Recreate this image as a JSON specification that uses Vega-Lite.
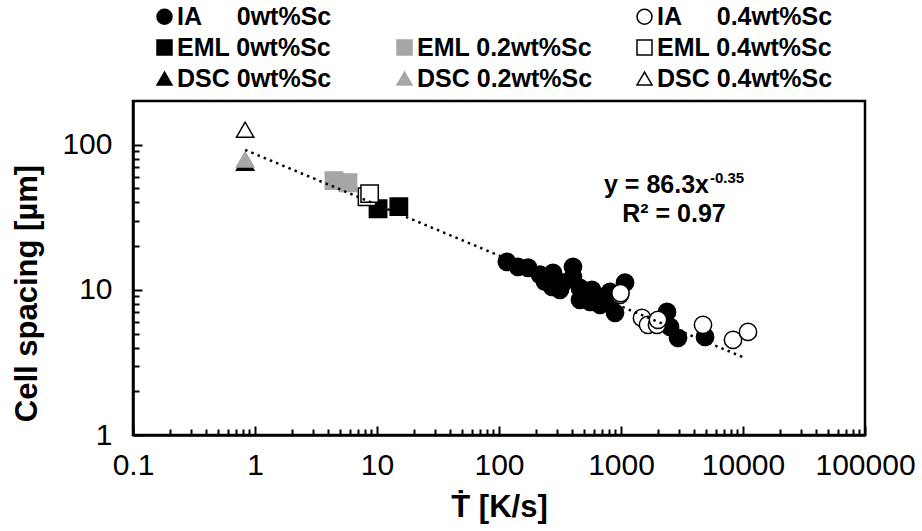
{
  "$schema": "https://vega.github.io/schema/vega-lite/v6.json",
  "width": 732,
  "height": 334,
  "autosize": {"type": "none"},
  "padding": {"left": 133, "top": 101, "right": 57, "bottom": 96},
  "background": "white",
  "config": {
    "font": "Liberation Sans",
    "view": {"stroke": "black", "strokeWidth": 2.5},
    "axis": {"domainColor": "black", "domainWidth": 2.5, "tickColor": "black", "tickWidth": 2, "labelColor": "black", "titleColor": "black", "labelFont": "Liberation Sans", "titleFont": "Liberation Sans", "grid": false},
    "legend": {"orient": "none", "legendX": 19, "legendY": -97, "columns": 3, "gridAlign": "all", "columnPadding": 39, "rowPadding": 5, "labelFont": "Liberation Sans", "labelFontSize": 25, "labelFontWeight": "bold", "labelColor": "black", "symbolSize": 225, "symbolStrokeWidth": 1.5, "labelOffset": 0, "padding": 0, "labelLimit": 0}
  },
  "datasets": {
    "pts": [
      {"series": "IA 0wt%Sc", "rate": 116, "spacing": 15.6},
      {"series": "IA 0wt%Sc", "rate": 143, "spacing": 14.4},
      {"series": "IA 0wt%Sc", "rate": 173, "spacing": 14.2},
      {"series": "IA 0wt%Sc", "rate": 217, "spacing": 12.7},
      {"series": "IA 0wt%Sc", "rate": 277, "spacing": 13.1},
      {"series": "IA 0wt%Sc", "rate": 272, "spacing": 10.5},
      {"series": "IA 0wt%Sc", "rate": 404, "spacing": 14.4},
      {"series": "IA 0wt%Sc", "rate": 404, "spacing": 12.3},
      {"series": "IA 0wt%Sc", "rate": 335, "spacing": 11.2},
      {"series": "IA 0wt%Sc", "rate": 238, "spacing": 11.4},
      {"series": "IA 0wt%Sc", "rate": 316, "spacing": 10.0},
      {"series": "IA 0wt%Sc", "rate": 461, "spacing": 10.3},
      {"series": "IA 0wt%Sc", "rate": 488, "spacing": 9.24},
      {"series": "IA 0wt%Sc", "rate": 461, "spacing": 8.53},
      {"series": "IA 0wt%Sc", "rate": 557, "spacing": 8.26},
      {"series": "IA 0wt%Sc", "rate": 578, "spacing": 10.0},
      {"series": "IA 0wt%Sc", "rate": 673, "spacing": 8.95},
      {"series": "IA 0wt%Sc", "rate": 673, "spacing": 7.88},
      {"series": "IA 0wt%Sc", "rate": 740, "spacing": 8.53},
      {"series": "IA 0wt%Sc", "rate": 813, "spacing": 9.69},
      {"series": "IA 0wt%Sc", "rate": 860, "spacing": 8.95},
      {"series": "IA 0wt%Sc", "rate": 893, "spacing": 6.94},
      {"series": "IA 0wt%Sc", "rate": 1079, "spacing": 11.2},
      {"series": "IA 0wt%Sc", "rate": 2383, "spacing": 7.05},
      {"series": "IA 0wt%Sc", "rate": 2523, "spacing": 5.56},
      {"series": "IA 0wt%Sc", "rate": 2933, "spacing": 4.67},
      {"series": "IA 0wt%Sc", "rate": 4885, "spacing": 4.74},
      {"series": "EML 0wt%Sc", "rate": 10.2, "spacing": 36.2},
      {"series": "EML 0wt%Sc", "rate": 15.1, "spacing": 37.4},
      {"series": "DSC 0wt%Sc", "rate": 0.83, "spacing": 75},
      {"series": "EML 0.2wt%Sc", "rate": 4.44, "spacing": 56.5},
      {"series": "EML 0.2wt%Sc", "rate": 5.78, "spacing": 54.7},
      {"series": "DSC 0.2wt%Sc", "rate": 0.83, "spacing": 79},
      {"series": "IA 0.4wt%Sc", "rate": 982, "spacing": 9.24},
      {"series": "IA 0.4wt%Sc", "rate": 990, "spacing": 9.5},
      {"series": "IA 0.4wt%Sc", "rate": 1486, "spacing": 6.41},
      {"series": "IA 0.4wt%Sc", "rate": 1664, "spacing": 5.74},
      {"series": "IA 0.4wt%Sc", "rate": 1972, "spacing": 5.74},
      {"series": "IA 0.4wt%Sc", "rate": 2010, "spacing": 6.21},
      {"series": "IA 0.4wt%Sc", "rate": 4700, "spacing": 5.74},
      {"series": "IA 0.4wt%Sc", "rate": 8280, "spacing": 4.52},
      {"series": "IA 0.4wt%Sc", "rate": 10990, "spacing": 5.13},
      {"series": "EML 0.4wt%Sc", "rate": 8.28, "spacing": 43.8},
      {"series": "EML 0.4wt%Sc", "rate": 8.7, "spacing": 46},
      {"series": "DSC 0.4wt%Sc", "rate": 0.83, "spacing": 127}
    ],
    "fit": [
      {"rate": 0.83, "spacing": 92.1},
      {"rate": 10500, "spacing": 3.38}
    ],
    "eq": [{"rate": 5260, "spacing": 46.7}],
    "r2": [{"rate": 2716, "spacing": 29.4}]
  },
  "layer": [
    {
      "data": {"name": "pts"},
      "mark": {"type": "point", "opacity": 1, "strokeWidth": 1.5, "size": 300},
      "encoding": {
        "x": {"field": "rate", "type": "quantitative", "scale": {"type": "log", "domain": [0.1, 100000], "nice": false},
          "axis": {"orient": "bottom", "values": [0.1, 1, 10, 100, 1000, 10000, 100000], "format": "~g", "labelFontSize": 30, "labelPadding": 24, "tickSize": -9, "labelFlush": false, "labelOverlap": false, "title": "Ṫ [K/s]", "titleFontSize": 31, "titleFontWeight": "bold", "titleBaseline": "alphabetic", "titleY": 81}},
        "y": {"field": "spacing", "type": "quantitative", "scale": {"type": "log", "domain": [1, 200], "nice": false},
          "axis": {"orient": "left", "values": [1, 10, 100], "format": "~g", "labelFontSize": 30, "labelPadding": 30, "tickSize": -9, "labelFlush": false, "labelOverlap": false, "title": "Cell spacing [µm]", "titleFontSize": 31, "titleFontWeight": "bold", "titleBaseline": "alphabetic", "titleAngle": -90, "titleX": -97, "titleY": 192, "titleAlign": "center"}},
        "shape": {"field": "series", "type": "nominal",
          "scale": {"domain": ["IA 0wt%Sc", "EML 0wt%Sc", "DSC 0wt%Sc", "blank", "EML 0.2wt%Sc", "DSC 0.2wt%Sc", "IA 0.4wt%Sc", "EML 0.4wt%Sc", "DSC 0.4wt%Sc"],
            "range": ["circle", "square", "triangle-up", "circle", "square", "triangle-up", "circle", "square", "triangle-up"]},
          "legend": {"title": null, "labelExpr": "datum.label == 'blank' ? '' : replace(datum.label, 'IA ', 'IA\u00a0\u00a0\u00a0\u00a0\u00a0')"}},
        "fill": {"field": "series", "type": "nominal",
          "scale": {"domain": ["IA 0wt%Sc", "EML 0wt%Sc", "DSC 0wt%Sc", "blank", "EML 0.2wt%Sc", "DSC 0.2wt%Sc", "IA 0.4wt%Sc", "EML 0.4wt%Sc", "DSC 0.4wt%Sc"],
            "range": ["black", "black", "black", "transparent", "#a6a6a6", "#a6a6a6", "white", "white", "white"]},
          "legend": {"title": null, "labelExpr": "datum.label == 'blank' ? '' : replace(datum.label, 'IA ', 'IA\u00a0\u00a0\u00a0\u00a0\u00a0')"}},
        "stroke": {"field": "series", "type": "nominal",
          "scale": {"domain": ["IA 0wt%Sc", "EML 0wt%Sc", "DSC 0wt%Sc", "blank", "EML 0.2wt%Sc", "DSC 0.2wt%Sc", "IA 0.4wt%Sc", "EML 0.4wt%Sc", "DSC 0.4wt%Sc"],
            "range": ["black", "black", "black", "transparent", "#a6a6a6", "#a6a6a6", "black", "black", "black"]},
          "legend": {"title": null, "labelExpr": "datum.label == 'blank' ? '' : replace(datum.label, 'IA ', 'IA\u00a0\u00a0\u00a0\u00a0\u00a0')"}}
      }
    },
    {
      "data": {"name": "fit"},
      "mark": {"type": "line", "color": "black", "strokeWidth": 2.5, "strokeDash": [2.5, 4.2]},
      "encoding": {
        "x": {"field": "rate", "type": "quantitative", "scale": {"type": "log", "domain": [0.1, 100000], "nice": false},
          "axis": {"orient": "bottom", "values": [0.2, 0.3, 0.4, 0.5, 0.6, 0.7, 0.8, 0.9, 2, 3, 4, 5, 6, 7, 8, 9, 20, 30, 40, 50, 60, 70, 80, 90, 200, 300, 400, 500, 600, 700, 800, 900, 2000, 3000, 4000, 5000, 6000, 7000, 8000, 9000, 20000, 30000, 40000, 50000, 60000, 70000, 80000, 90000], "labels": false, "domain": false, "tickSize": -6, "title": null}},
        "y": {"field": "spacing", "type": "quantitative", "scale": {"type": "log", "domain": [1, 200], "nice": false},
          "axis": {"orient": "left", "values": [2, 3, 4, 5, 6, 7, 8, 9, 20, 30, 40, 50, 60, 70, 80, 90], "labels": false, "domain": false, "tickSize": -6, "title": null}}
      }
    },
    {
      "data": {"name": "eq"},
      "mark": {"type": "text", "text": "y = 86.3x", "align": "right", "baseline": "alphabetic", "fontSize": 25, "fontWeight": "bold", "color": "black"},
      "encoding": {
        "x": {"field": "rate", "type": "quantitative", "scale": {"type": "log", "domain": [0.1, 100000], "nice": false}, "axis": null},
        "y": {"field": "spacing", "type": "quantitative", "scale": {"type": "log", "domain": [1, 200], "nice": false}, "axis": null}
      }
    },
    {
      "data": {"name": "eq"},
      "mark": {"type": "text", "text": "-0.35", "align": "left", "baseline": "alphabetic", "dx": 1, "dy": -10, "fontSize": 15, "fontWeight": "bold", "color": "black"},
      "encoding": {
        "x": {"field": "rate", "type": "quantitative", "scale": {"type": "log", "domain": [0.1, 100000], "nice": false}, "axis": null},
        "y": {"field": "spacing", "type": "quantitative", "scale": {"type": "log", "domain": [1, 200], "nice": false}, "axis": null}
      }
    },
    {
      "data": {"name": "r2"},
      "mark": {"type": "text", "text": "R² = 0.97", "align": "center", "baseline": "alphabetic", "fontSize": 25, "fontWeight": "bold", "color": "black"},
      "encoding": {
        "x": {"field": "rate", "type": "quantitative", "scale": {"type": "log", "domain": [0.1, 100000], "nice": false}, "axis": null},
        "y": {"field": "spacing", "type": "quantitative", "scale": {"type": "log", "domain": [1, 200], "nice": false}, "axis": null}
      }
    }
  ],
  "resolve": {"axis": {"x": "independent", "y": "independent"}}
}
